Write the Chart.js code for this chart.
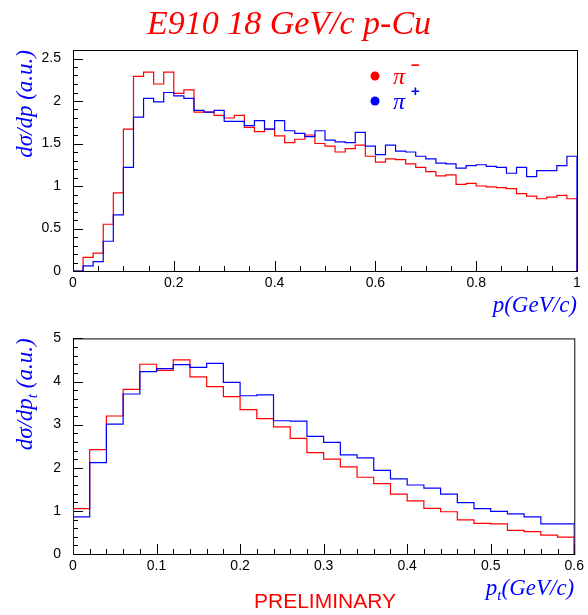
<!DOCTYPE html>
<html>
<head>
<meta charset="utf-8">
<script src="https://cdn.jsdelivr.net/npm/chart.js@4.4.1/dist/chart.umd.min.js"></script>
<style>
  body { margin: 0; background: #fff; }
  #wrap { position: relative; width: 588px; height: 615px; }
  canvas { position: absolute; left: 0; }
  #momentum { top: 0; }
  #transverse { top: 318px; }
</style>
</head>
<body>
<div id="wrap">
  <canvas id="momentum" width="588" height="318"></canvas>
  <canvas id="transverse" width="588" height="297"></canvas>
</div>
<script>
const BIN = 0.02; // GeV/c per histogram bin

// dsigma/dp, 50 bins over 0 < p < 1 GeV/c
const pPiMinus = [
  0, 0.16, 0.21, 0.55, 0.92, 1.67, 2.29, 2.34, 2.20, 2.34,
  2.09, 2.13, 1.87, 1.87, 1.83, 1.80, 1.83, 1.69, 1.64, 1.67,
  1.59, 1.51, 1.55, 1.60, 1.50, 1.47, 1.40, 1.44, 1.48, 1.35,
  1.28, 1.32, 1.31, 1.26, 1.22, 1.17, 1.12, 1.13, 1.02, 1.03,
  1.00, 0.99, 0.98, 0.97, 0.91, 0.88, 0.85, 0.87, 0.89, 0.85
];
const pPiPlus = [
  0, 0.06, 0.11, 0.35, 0.66, 1.22, 1.81, 2.03, 1.99, 2.10,
  2.06, 2.03, 1.89, 1.87, 1.89, 1.76, 1.76, 1.71, 1.77, 1.67,
  1.77, 1.65, 1.62, 1.58, 1.65, 1.54, 1.52, 1.51, 1.63, 1.47,
  1.37, 1.48, 1.41, 1.40, 1.35, 1.32, 1.27, 1.26, 1.21, 1.24,
  1.25, 1.23, 1.22, 1.15, 1.22, 1.11, 1.18, 1.18, 1.24, 1.35
];

// dsigma/dpt, 30 bins over 0 < pt < 0.6 GeV/c
const ptPiMinus = [
  1.05, 2.42, 3.20, 3.82, 4.40, 4.26, 4.50, 4.11, 3.88, 3.65,
  3.35, 3.14, 2.95, 2.68, 2.35, 2.20, 2.02, 1.78, 1.63, 1.39,
  1.23, 1.06, 0.98, 0.79, 0.71, 0.70, 0.55, 0.52, 0.44, 0.39
];
const ptPiPlus = [
  0.86, 2.12, 3.01, 3.71, 4.23, 4.30, 4.39, 4.33, 4.42, 3.98,
  3.67, 3.69, 3.09, 3.08, 2.73, 2.59, 2.30, 2.23, 1.94, 1.74,
  1.60, 1.53, 1.39, 1.19, 1.05, 0.99, 0.93, 0.86, 0.70, 0.70
];

// labelled ticks
const pTicks = [0, 0.2, 0.4, 0.6, 0.8, 1];
const pYTicks = [0, 0.5, 1, 1.5, 2, 2.5];
const ptTicks = [0, 0.1, 0.2, 0.3, 0.4, 0.5, 0.6];
const ptYTicks = [0, 1, 2, 3, 4, 5];

const RED = '#ff0000';
const BLUE = '#0000ff';
const SERIF = "'Liberation Serif', 'DejaVu Serif', serif";
const SANS = "'Liberation Sans', Arial, sans-serif";

// ROOT-style histogram outline: rise from zero at the low edge, fall back at the high edge
function histPoints(values) {
  const pts = [{ x: 0, y: 0 }];
  values.forEach((v, i) => pts.push({ x: i * BIN, y: v }));
  const end = values.length * BIN;
  pts.push({ x: end, y: values[values.length - 1] });
  pts.push({ x: end, y: 0 });
  return pts;
}

function histSet(values, color, order) {
  return {
    data: histPoints(values),
    borderColor: color,
    borderWidth: 1.2,
    pointRadius: 0,
    stepped: 'before', // horizontal across the bin, then vertical at its edge
    fill: false,
    order: order
  };
}

// draw a row of text pieces, each with its own font and vertical shift
function drawRuns(ctx, runs, x, y) {
  runs.forEach(r => {
    ctx.font = r.font;
    ctx.fillText(r.t, x, y + (r.dy || 0));
    x += ctx.measureText(r.t).width;
  });
}
function runsWidth(ctx, runs) {
  return runs.reduce((w, r) => { ctx.font = r.font; return w + ctx.measureText(r.t).width; }, 0);
}

const frame = {
  id: 'frame',
  beforeDatasetsDraw(chart, args, o) {
    const { ctx, chartArea: a, scales: { x, y } } = chart;
    ctx.save();
    ctx.strokeStyle = '#000';
    ctx.lineWidth = 1;
    ctx.strokeRect(a.left + 0.5, a.top + 0.5, a.right - a.left, a.bottom - a.top);
    ctx.beginPath();
    const isMajor = (v, step) => Math.abs(v / step - Math.round(v / step)) < 1e-6;
    for (let i = 0; ; i++) {
      const v = x.min + i * o.xMinor;
      if (v > x.max + 1e-9) break;
      const px = Math.round(x.getPixelForValue(v)) + 0.5;
      ctx.moveTo(px, a.bottom);
      ctx.lineTo(px, a.bottom - (isMajor(v, o.xMajor) ? 10 : 5));
    }
    for (let i = 0; ; i++) {
      const v = y.min + i * o.yMinor;
      if (v > y.max + 1e-9) break;
      const py = Math.round(y.getPixelForValue(v)) + 0.5;
      ctx.moveTo(a.left, py);
      ctx.lineTo(a.left + (isMajor(v, o.yMajor) ? 10 : 5), py);
    }
    ctx.stroke();
    ctx.restore();
  },
  afterDraw(chart, args, o) {
    const { ctx, chartArea: a } = chart;
    ctx.save();
    ctx.textBaseline = 'alphabetic';
    ctx.textAlign = 'left';

    // y axis title, rotated, ending at the top of the frame
    ctx.fillStyle = BLUE;
    const yw = runsWidth(ctx, o.yTitle);
    ctx.save();
    ctx.translate(o.yTitleX, a.top + yw);
    ctx.rotate(-Math.PI / 2);
    drawRuns(ctx, o.yTitle, 0, 0);
    ctx.restore();

    // x axis title, right-aligned under the frame
    const xw = runsWidth(ctx, o.xTitle);
    drawRuns(ctx, o.xTitle, a.right - xw, o.xTitleY);

    if (o.extra) o.extra(ctx, a);
    ctx.restore();
  }
};

function makeChart(id, minus, plus, xMax, yMax, xTicks, yTicks, pad, xHeight, deco) {
  return new Chart(document.getElementById(id), {
    type: 'line',
    data: {
      datasets: [histSet(minus, RED, 2), histSet(plus, BLUE, 1)]
    },
    options: {
      responsive: false,
      animation: false,
      devicePixelRatio: 1,
      layout: { padding: pad },
      plugins: {
        legend: { display: false },
        tooltip: { enabled: false },
        frame: deco
      },
      scales: {
        x: {
          type: 'linear',
          min: 0,
          max: xMax,
          afterBuildTicks: s => { s.ticks = xTicks.map(v => ({ value: v })); },
          afterFit: s => { s.height = xHeight; },
          grid: { display: false, drawTicks: false },
          border: { display: false },
          ticks: {
            padding: 4,
            maxRotation: 0,
            color: '#000',
            font: { family: SANS, size: 14 },
            callback: v => String(+v.toFixed(2))
          }
        },
        y: {
          type: 'linear',
          min: 0,
          max: yMax,
          afterBuildTicks: s => { s.ticks = yTicks.map(v => ({ value: v })); },
          afterFit: s => { s.width = 73; },
          grid: { display: false, drawTicks: false },
          border: { display: false },
          ticks: {
            padding: 12,
            color: '#000',
            font: { family: SANS, size: 14 },
            callback: v => String(+v.toFixed(2))
          }
        }
      }
    },
    plugins: [frame]
  });
}

const titleFont = 'italic 23px ' + SERIF;
const subFont = 'italic 15px ' + SERIF;

makeChart('momentum', pPiMinus, pPiPlus, 1, 2.6, pTicks, pYTicks,
  { top: 50, right: 11, left: 0, bottom: 0 }, 47, {
    xMinor: 0.05, xMajor: 0.2, yMinor: 0.1, yMajor: 0.5,
    yTitleX: 32,
    yTitle: [{ t: 'd\u03c3/dp (a.u.)', font: titleFont }],
    xTitleY: 312,
    xTitle: [{ t: 'p(GeV/c)', font: titleFont }],
    extra(ctx) {
      ctx.font = 'italic 34px ' + SERIF;
      ctx.fillStyle = RED;
      ctx.textAlign = 'center';
      ctx.fillText('E910 18 GeV/c p-Cu', 289, 34);
      ctx.textAlign = 'left';

      // legend
      [[RED, 76, '\u2212', 70], [BLUE, 101, '+', 96]].forEach(([c, cy, sign, sy]) => {
        ctx.fillStyle = c;
        ctx.beginPath();
        ctx.arc(375, cy, 4.5, 0, Math.PI * 2);
        ctx.fill();
        ctx.font = 'italic 24px ' + SERIF;
        ctx.fillText('\u03c0', 393, cy + 8);
        ctx.font = 'bold 15px ' + SANS;
        ctx.fillText(sign, 411, sy);
      });
    }
  });

makeChart('transverse', ptPiMinus, ptPiPlus, 0.6, 5, ptTicks, ptYTicks,
  { top: 16, right: 11, left: 0, bottom: 0 }, 61, {
    xMinor: 0.02, xMajor: 0.1, yMinor: 0.2, yMajor: 1,
    yTitleX: 32,
    yTitle: [
      { t: 'd\u03c3/dp', font: titleFont },
      { t: 't', font: subFont, dy: 5 },
      { t: ' (a.u.)', font: titleFont }
    ],
    xTitleY: 277,
    xTitle: [
      { t: 'p', font: titleFont },
      { t: 't', font: subFont, dy: 5 },
      { t: '(GeV/c)', font: titleFont }
    ],
    extra(ctx) {
      ctx.font = '21px ' + SANS;
      ctx.fillStyle = RED;
      ctx.textAlign = 'center';
      ctx.fillText('PRELIMINARY', 325, 290);
    }
  });
</script>
</body>
</html>
